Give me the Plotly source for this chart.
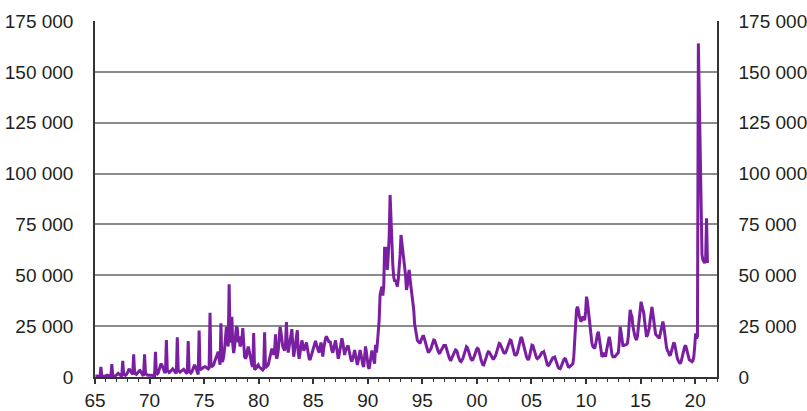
import plotly.graph_objects as go

# Monthly values (Jan..Dec)
m1965 = [500, 600, 500, 400, 300, 300, 5000, 700, 400, 300, 400, 600]
m1966 = [800, 900, 700, 500, 300, 400, 6300, 900, 500, 400, 600, 900]
m1967 = [1500, 1800, 1400, 900, 600, 700, 8000, 1500, 900, 800, 1200, 1800]
m1968 = [2800, 4000, 3200, 2200, 1400, 1300, 11100, 2500, 1500, 1300, 1800, 2500]
m1969 = [3000, 3200, 2600, 1800, 1000, 1100, 11100, 2000, 1200, 900, 800, 700]
m1970 = [800, 900, 800, 600, 500, 700, 12400, 1800, 1500, 2000, 3500, 5000]
m1971 = [6500, 6000, 5000, 3500, 2500, 2500, 18200, 3500, 2500, 2200, 2500, 3000]
m1972 = [3500, 4000, 3500, 2800, 2200, 2300, 19500, 3500, 2600, 2400, 2800, 3200]
m1973 = [3600, 3800, 3200, 2500, 2000, 2200, 17700, 3000, 2200, 2000, 2500, 3500]
m1974 = [4500, 6000, 5000, 3400, 1500, 1200, 22900, 3500, 3800, 4200, 4500, 4800]
m1975 = [5000, 5000, 4500, 4200, 4000, 4500, 31600, 5500, 5200, 5500, 6000, 7500]
m1976 = [9000, 10000, 10800, 12400, 9000, 6000, 26400, 7500, 8000, 10000, 14000, 20000]
m1977 = [24700, 18000, 15000, 45600, 20000, 17000, 29600, 16000, 11800, 15000, 20000, 24700]
m1978 = [24000, 17000, 20000, 15000, 16000, 18000, 24000, 14000, 10000, 9000, 10000, 13000]
m1979 = [15000, 13000, 10000, 7500, 6000, 5000, 21600, 3600, 4000, 4500, 5500, 6000]
m1980 = [5000, 4500, 4000, 3500, 3400, 4000, 22000, 4500, 5000, 5500, 6000, 8000]
m1981 = [10000, 12000, 14000, 12000, 11000, 13000, 21000, 9000, 10000, 13000, 18000, 24700]
m1982 = [22000, 17000, 15000, 14000, 13000, 16000, 27000, 16000, 12000, 15000, 18000, 23000]
m1983 = [23500, 16000, 10000, 13000, 17000, 20000, 23000, 12000, 9000, 12000, 15000, 18000]
m1984 = [16000, 13000, 14000, 15000, 17000, 14000, 11000, 9000, 8400, 10000, 12000, 14000]
m1985 = [15000, 16500, 17700, 16000, 14000, 13000, 12000, 14000, 17000, 14000, 10000, 14000]
m1986 = [17000, 19000, 20000, 19000, 18000, 17000, 17700, 15000, 13000, 12000, 14000, 16000]
m1987 = [18000, 15000, 12000, 9000, 11000, 14000, 17000, 19000, 17000, 14000, 10800, 13000]
m1988 = [14000, 15000, 15000, 12000, 10000, 8500, 7600, 9000, 11000, 13300, 11000, 8000]
m1989 = [5900, 8000, 11000, 13300, 11000, 8000, 6000, 5000, 9000, 15000, 12000, 8000]
m1990 = [5000, 4000, 7000, 10000, 13000, 10000, 8000, 6600, 15800, 12000, 16500, 22000]
m1991 = [28000, 40300, 42000, 44400, 40000, 44400, 64000, 60000, 64000, 52600, 60000, 69000]
m1992 = [89500, 75000, 69000, 55000, 49300, 47000, 47700, 45000, 44400, 48000, 52600, 60000]
m1993 = [69800, 66000, 62500, 60000, 55900, 50000, 42800, 45000, 50000, 52600, 48000, 44000]
m1994 = [41000, 38000, 33000, 26000, 23000, 20000, 18000, 17500, 17000, 16500, 18000, 19000]
m1995 = [20000, 20000, 18500, 16500, 14500, 13000, 12000, 12500, 13000, 14000, 15500, 17000]
m1996 = [18200, 18000, 16500, 15000, 13500, 12500, 11800, 12000, 13000, 13500, 14500, 15500]
m1997 = [15700, 15500, 14000, 12000, 10500, 9500, 8500, 8400, 9500, 10500, 11500, 12500]
m1998 = [13300, 13000, 12000, 10000, 8500, 7800, 7500, 8000, 9000, 10500, 12000, 13500]
m1999 = [14900, 14500, 13000, 11000, 9500, 8800, 8400, 8600, 9500, 10500, 12000, 13500]
m2000 = [14100, 13800, 12500, 10500, 8500, 7000, 6000, 5900, 7000, 8500, 10000, 11500]
m2001 = [12400, 12300, 11500, 10500, 9500, 9000, 9000, 9500, 10500, 12000, 14000, 15500]
m2002 = [16500, 16300, 15000, 13500, 12500, 12000, 11800, 12000, 13000, 14500, 16000, 17500]
m2003 = [18200, 18000, 16500, 14500, 12500, 11000, 10800, 11000, 12000, 14000, 16000, 18000]
m2004 = [19600, 19000, 17000, 14500, 12500, 11000, 10000, 9000, 8400, 9500, 12000, 14000]
m2005 = [15700, 15500, 14000, 12000, 10500, 9500, 9000, 9200, 9800, 10500, 11500, 12000]
m2006 = [12000, 12400, 11000, 9000, 7000, 6000, 5700, 6000, 7000, 8000, 9000, 9500]
m2007 = [9500, 9800, 8500, 7000, 5500, 4600, 4200, 4100, 5000, 6500, 7500, 8500]
m2008 = [9000, 8800, 7500, 6000, 5000, 4900, 5200, 5500, 5800, 6500, 10000, 19000]
m2009 = [27000, 33000, 34600, 33000, 30000, 28000, 27200, 28500, 29700, 28500, 28000, 32000]
m2010 = [39500, 37000, 33000, 28000, 22000, 18000, 16500, 15000, 14500, 14100, 16000, 19500]
m2011 = [21000, 22300, 19000, 14000, 11000, 10000, 10500, 12000, 11000, 10000, 13000, 16000]
m2012 = [18500, 19800, 17500, 14000, 11000, 10000, 9800, 10000, 10500, 11000, 11000, 12000]
m2013 = [17000, 24700, 22000, 17500, 15500, 15500, 15700, 15500, 16000, 16500, 20000, 27000]
m2014 = [33000, 31000, 29700, 25000, 22000, 20500, 19000, 18200, 20000, 24000, 30000, 34000]
m2015 = [37000, 35000, 33000, 31300, 27000, 22000, 19800, 20500, 22000, 24000, 28000, 31000]
m2016 = [34500, 31000, 27000, 23000, 21000, 20500, 20000, 19500, 19000, 21000, 23000, 25500]
m2017 = [27200, 25000, 21000, 17200, 14500, 13000, 12400, 11000, 10500, 12000, 14000, 16000]
m2018 = [17000, 16000, 13000, 10000, 9000, 8000, 7000, 6600, 7500, 9500, 12000, 14000]
m2019 = [15000, 15500, 13500, 11000, 9500, 8500, 8200, 8000, 7500, 8000, 10000, 15000]
m2020 = [21500, 19000, 20000, 164000, 135000, 108000, 82000, 60000, 57500, 57000, 56000, 58000]
m2021 = [78000, 56000]

yearly = [m1965, m1966, m1967, m1968, m1969, m1970, m1971, m1972, m1973, m1974,
          m1975, m1976, m1977, m1978, m1979, m1980, m1981, m1982, m1983, m1984,
          m1985, m1986, m1987, m1988, m1989, m1990, m1991, m1992, m1993, m1994,
          m1995, m1996, m1997, m1998, m1999, m2000, m2001, m2002, m2003, m2004,
          m2005, m2006, m2007, m2008, m2009, m2010, m2011, m2012, m2013, m2014,
          m2015, m2016, m2017, m2018, m2019, m2020, m2021]
start_year = 1965

x_tick_vals = [1965, 1970, 1975, 1980, 1985, 1990, 1995, 2000, 2005, 2010, 2015, 2020]
x_tick_text = ["65", "70", "75", "80", "85", "90", "95", "00", "05", "10", "15", "20"]
y_tick_vals = [0, 25000, 50000, 75000, 100000, 125000, 150000, 175000]
y_tick_text = ["0", "25 000", "50 000", "75 000", "100 000", "125 000", "150 000", "175 000"]

xs, ys = [], []
for i, vals in enumerate(yearly):
    for m, v in enumerate(vals):
        xs.append(start_year + i + (m + 0.5) / 12)
        ys.append(v)

LINE = "#7B1FA2"
AX = "#333333"
GRID = "#8a8a8a"
FONT = dict(family="Liberation Sans, Arial, sans-serif", size=19, color="#231f20")

fig = go.Figure()
fig.add_trace(go.Scatter(x=xs, y=ys, mode="lines", line=dict(color=LINE, width=3),
                         hoverinfo="skip"))
fig.add_trace(go.Scatter(x=[None], y=[None], yaxis="y2", mode="lines", showlegend=False,
                         hoverinfo="skip"))

minor_vals = [y for y in range(1965, 2023) if y not in x_tick_vals]

fig.update_layout(
    width=807, height=411,
    margin=dict(l=95, r=90, t=21, b=34),
    paper_bgcolor="white", plot_bgcolor="white",
    showlegend=False, font=FONT, hovermode=False,
    xaxis=dict(range=[1965, 2022], tickmode="array", tickvals=x_tick_vals, ticktext=x_tick_text,
               ticks="outside", ticklen=5, tickwidth=1.5, tickcolor=AX, automargin=False,
               showline=True, linecolor=AX, linewidth=1.5, showgrid=False, zeroline=False,
               tickfont=FONT,
               minor=dict(tickmode="array", tickvals=minor_vals, ticks="outside", ticklen=3,
                          tickwidth=1, tickcolor=AX, showgrid=False)),
    yaxis=dict(range=[0, 175000], tickmode="array", tickvals=y_tick_vals, ticktext=y_tick_text,
               showgrid=True, gridcolor=GRID, gridwidth=1.5, showline=True, linecolor=AX,
               linewidth=1.5, ticks="", zeroline=False, ticklabelstandoff=16,
               automargin=False, tickfont=FONT),
    yaxis2=dict(range=[0, 175000], tickmode="array", tickvals=y_tick_vals, ticktext=y_tick_text,
                overlaying="y", side="right", showgrid=False, showline=True, linecolor=AX,
                linewidth=1.5, ticks="", zeroline=False, ticklabelstandoff=16,
                automargin=False, tickfont=FONT),
)

fig.write_html("out.html", config={"displayModeBar": False},
               post_script="document.body.style.margin='0px';")
